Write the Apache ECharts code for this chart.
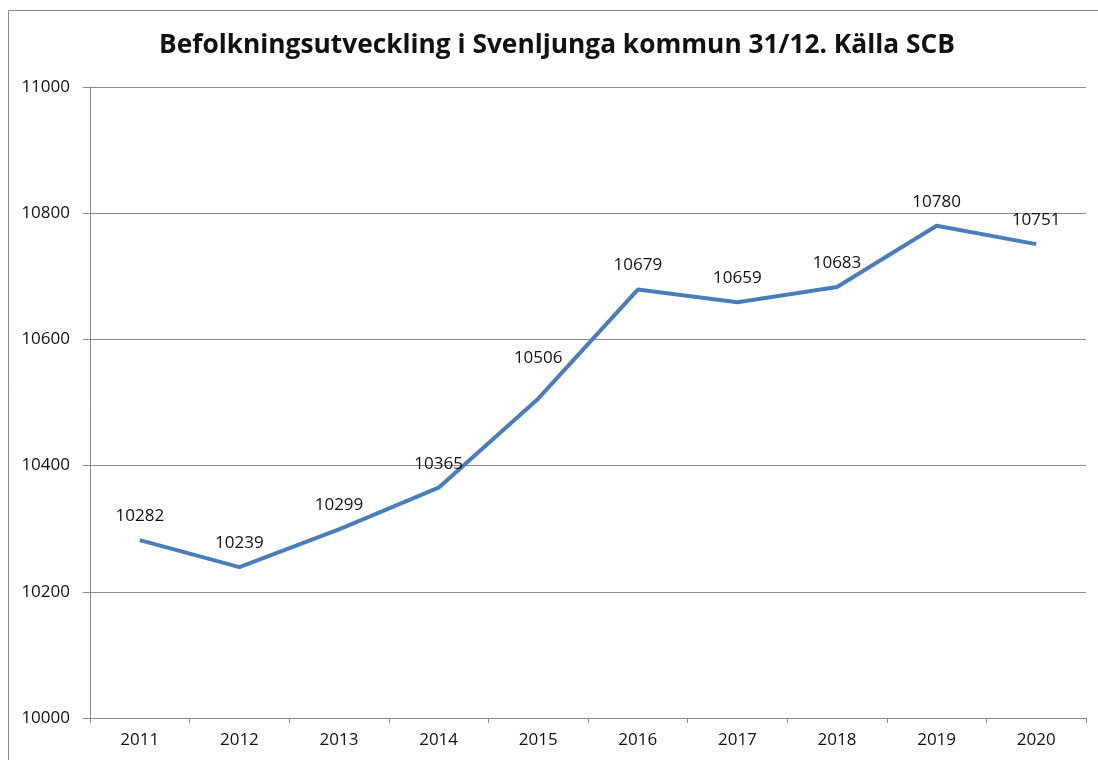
<!DOCTYPE html>
<html>
<head>
<meta charset="utf-8">
<script src="https://cdn.jsdelivr.net/npm/echarts@6/dist/echarts.min.js"></script>
<style>html,body{margin:0;padding:0;background:#fff;}#c{width:1098px;height:760px;}</style>
</head>
<body>
<div id="c"></div>
<script>
const titleText = 'Befolkningsutveckling i Svenljunga kommun 31/12. Källa SCB';
const years = ['2011','2012','2013','2014','2015','2016','2017','2018','2019','2020'];
const population = [10282, 10239, 10299, 10365, 10506, 10679, 10659, 10683, 10780, 10751];
const yMin = 10000, yMax = 11000, yStep = 200;

const chart = echarts.init(document.getElementById('c'));
chart.setOption({
  backgroundColor: '#fff',
  animation: false,
  title: {
    text: titleText,
    left: 159,
    top: 33,
    padding: 0,
    textStyle: { fontFamily: 'Open Sans', fontWeight: 'bold', fontSize: 26.3, color: '#111' }
  },
  graphic: [{
    type: 'rect',
    shape: { x: 8.5, y: 10.5, width: 1200, height: 900 },
    style: { fill: 'none', stroke: '#8a8a8a', lineWidth: 1 },
    silent: true
  }],
  grid: { left: 90, right: 12, top: 87, bottom: 42, containLabel: false },
  xAxis: {
    type: 'category',
    data: years,
    boundaryGap: true,
    axisLine: { lineStyle: { color: '#8a8a8a', width: 1 } },
    axisTick: { show: true, length: 5, alignWithLabel: false, lineStyle: { color: '#8a8a8a' } },
    axisLabel: { margin: 14, fontFamily: 'Open Sans', fontSize: 17, color: '#111' },
    splitLine: { show: false }
  },
  yAxis: {
    type: 'value',
    min: yMin, max: yMax, interval: yStep,
    axisLine: { show: true, lineStyle: { color: '#8a8a8a', width: 1 } },
    axisTick: { show: true, length: 7, lineStyle: { color: '#8a8a8a' } },
    axisLabel: { margin: 20, fontFamily: 'Open Sans', fontSize: 17, color: '#111', formatter: v => String(v) },
    splitLine: { show: true, lineStyle: { color: '#8a8a8a', width: 1 } }
  },
  series: [{
    type: 'line',
    data: population.map((v, i) => i === 4 ? { value: v, label: { distance: 32 } } : v),
    symbol: 'circle',
    symbolSize: 1,
    showSymbol: true,
    itemStyle: { color: 'rgba(74,126,187,0)' },
    lineStyle: { color: '#4a7ebb', width: 4 },
    label: {
      show: true, position: 'top', distance: 15,
      fontFamily: 'Open Sans', fontSize: 17, color: '#111'
    }
  }]
});
</script>
</body>
</html>
